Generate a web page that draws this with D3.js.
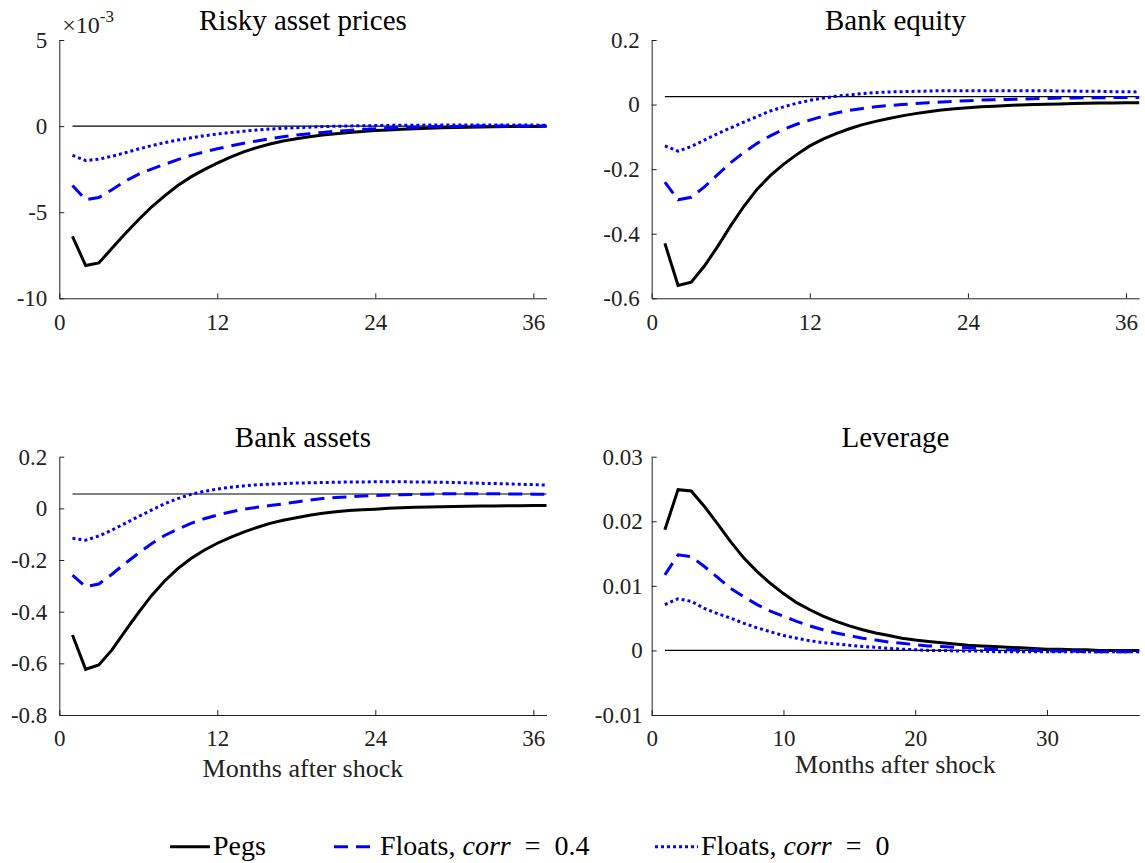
<!DOCTYPE html>
<html>
<head>
<meta charset="utf-8">
<script src="https://cdn.jsdelivr.net/npm/d3@7"></script>
<style>
body { margin: 0; background: #fff; }
text { font-family: "Liberation Serif", "Times New Roman", serif; }
</style>
</head>
<body>
<div id="chart"></div>
<script>
var months = [1,2,3,4,5,6,7,8,9,10,11,12,13,14,15,16,17,18,19,20,21,22,23,24,25,26,27,28,29,30,31,32,33,34,35,36,37];

// Risky asset prices, in units of 1e-3
var riskyPegs = [-6.4,-8.1,-7.95,-7.1,-6.25,-5.45,-4.7,-4.05,-3.45,-2.95,-2.53,-2.15,-1.8,-1.5,-1.25,-1.04,-0.87,-0.73,-0.62,-0.52,-0.44,-0.37,-0.31,-0.26,-0.22,-0.18,-0.15,-0.12,-0.1,-0.08,-0.065,-0.05,-0.04,-0.03,-0.025,-0.02,-0.015];
var riskyFloat04 = [-3.45,-4.27,-4.15,-3.7,-3.2,-2.8,-2.5,-2.22,-1.95,-1.7,-1.5,-1.32,-1.15,-1.0,-0.86,-0.73,-0.62,-0.52,-0.44,-0.37,-0.3,-0.25,-0.2,-0.16,-0.12,-0.09,-0.07,-0.05,-0.03,-0.02,-0.01,0,0,0.01,0.01,0.01,0.01];
var riskyFloat0 = [-1.7,-2.0,-1.92,-1.75,-1.55,-1.33,-1.14,-0.96,-0.81,-0.68,-0.56,-0.46,-0.37,-0.3,-0.23,-0.17,-0.13,-0.09,-0.06,-0.03,-0.01,0.01,0.02,0.03,0.04,0.05,0.05,0.06,0.06,0.06,0.06,0.06,0.06,0.06,0.06,0.06,0.05];
var riskyRef = 0;

// Bank equity
var equityPegs = [-0.43,-0.56,-0.55,-0.5,-0.44,-0.375,-0.315,-0.262,-0.22,-0.185,-0.155,-0.128,-0.107,-0.09,-0.075,-0.062,-0.052,-0.043,-0.035,-0.028,-0.022,-0.017,-0.013,-0.01,-0.007,-0.005,-0.003,-0.001,0,0.001,0.002,0.003,0.004,0.005,0.005,0.006,0.006];
var equityFloat04 = [-0.24,-0.295,-0.287,-0.255,-0.217,-0.18,-0.148,-0.12,-0.097,-0.077,-0.061,-0.048,-0.036,-0.026,-0.018,-0.012,-0.007,-0.003,0,0.003,0.006,0.008,0.01,0.012,0.014,0.015,0.016,0.017,0.018,0.019,0.02,0.02,0.021,0.021,0.022,0.022,0.022];
var equityFloat0 = [-0.128,-0.144,-0.13,-0.11,-0.09,-0.072,-0.054,-0.037,-0.02,-0.007,0.004,0.013,0.02,0.026,0.03,0.034,0.037,0.039,0.04,0.041,0.042,0.043,0.043,0.043,0.043,0.043,0.043,0.043,0.043,0.043,0.042,0.042,0.041,0.041,0.04,0.04,0.039];
var equityRef = 0.0246;

// Bank assets
var assetsPegs = [-0.49,-0.623,-0.606,-0.548,-0.475,-0.405,-0.338,-0.281,-0.233,-0.194,-0.162,-0.135,-0.112,-0.092,-0.074,-0.058,-0.046,-0.036,-0.027,-0.019,-0.013,-0.008,-0.005,-0.003,0,0.002,0.004,0.005,0.006,0.007,0.008,0.009,0.009,0.01,0.01,0.011,0.011];
var assetsFloat04 = [-0.258,-0.303,-0.293,-0.255,-0.213,-0.174,-0.137,-0.105,-0.08,-0.058,-0.04,-0.026,-0.014,-0.003,0.004,0.011,0.017,0.025,0.032,0.038,0.042,0.045,0.048,0.05,0.052,0.053,0.054,0.055,0.056,0.057,0.057,0.057,0.057,0.056,0.056,0.055,0.055];
var assetsFloat0 = [-0.116,-0.123,-0.107,-0.084,-0.058,-0.032,-0.007,0.018,0.038,0.054,0.066,0.075,0.082,0.087,0.091,0.094,0.096,0.098,0.099,0.1,0.101,0.102,0.102,0.103,0.103,0.103,0.102,0.102,0.101,0.1,0.099,0.097,0.096,0.095,0.093,0.092,0.09];
var assetsRef = 0.0555;

// Leverage
var leveragePegs = [0.0187,0.0249,0.0247,0.0223,0.0196,0.0168,0.0143,0.0122,0.0104,0.0088,0.0074,0.0063,0.0053,0.0045,0.0038,0.0032,0.0027,0.0023,0.0019,0.0016,0.0014,0.0012,0.001,0.0008,0.0007,0.0006,0.0005,0.0004,0.0003,0.0002,0.0002,0.0001,0.0001,0,0,0,0];
var leverageFloat04 = [0.0117,0.0148,0.0145,0.013,0.0113,0.0096,0.0083,0.0071,0.0061,0.0053,0.0045,0.0038,0.0032,0.0027,0.0023,0.0019,0.0016,0.0013,0.0011,0.0009,0.0007,0.0006,0.0005,0.0004,0.0003,0.0002,0.0001,0,0,-0.0001,-0.0001,-0.0001,-0.0002,-0.0002,-0.0002,-0.0002,-0.0002];
var leverageFloat0 = [0.0071,0.008,0.0076,0.0065,0.0057,0.005,0.0042,0.0035,0.0029,0.0023,0.0019,0.0015,0.0012,0.001,0.0008,0.0006,0.0005,0.0003,0.0002,0.0001,0,0,-0.0001,-0.0001,-0.0001,-0.0002,-0.0002,-0.0002,-0.0002,-0.0002,-0.0002,-0.0002,-0.0002,-0.0002,-0.0002,-0.0002,-0.0002];
var leverageRef = 0;

var titles = ['Risky asset prices', 'Bank equity', 'Bank assets', 'Leverage'];
var legendLabels = ['Pegs', 'Floats, ', 'Floats, '];
var legendCorr = [null, '0.4', '0'];

var axisColor = '#222';
var styles = [
    {color: '#000', dash: null},
    {color: '#0000ff', dash: '14,8'},
    {color: '#0000ff', dash: '3,3'}
];

var panels = [
    {title: titles[0], left: 59.3, right: 546.5, top: 40, bottom: 298.3,
     yDomain: [-10, 5], yTicks: [-10, -5, 0, 5], xTicks: [0, 12, 24, 36], pad: 12,
     series: [riskyPegs, riskyFloat04, riskyFloat0], ref: riskyRef, exponent: true},
    {title: titles[1], left: 651.7, right: 1139.2, top: 40, bottom: 298.3,
     yDomain: [-0.6, 0.2], yTicks: [-0.6, -0.4, -0.2, 0, 0.2], xTicks: [0, 12, 24, 36], pad: 12,
     series: [equityPegs, equityFloat04, equityFloat0], ref: equityRef},
    {title: titles[2], left: 59.3, right: 546.5, top: 456.7, bottom: 715,
     yDomain: [-0.8, 0.2], yTicks: [-0.8, -0.6, -0.4, -0.2, 0, 0.2], xTicks: [0, 12, 24, 36], pad: 12,
     series: [assetsPegs, assetsFloat04, assetsFloat0], ref: assetsRef, xLabelY: 777},
    {title: titles[3], left: 651.7, right: 1139.2, top: 456.7, bottom: 715,
     yDomain: [-0.01, 0.03], yTicks: [-0.01, 0, 0.01, 0.02, 0.03], xTicks: [0, 10, 20, 30], pad: 9,
     series: [leveragePegs, leverageFloat04, leverageFloat0], ref: leverageRef, xLabelY: 773}
];

var svg = d3.select('#chart').append('svg')
    .attr('width', 1145)
    .attr('height', 863);

function styleAxis(ax, size) {
    ax.attr('font-size', size);
    ax.select('.domain').attr('stroke', axisColor).attr('stroke-width', 1);
    ax.selectAll('.tick line').attr('stroke', axisColor);
    ax.selectAll('.tick text').attr('fill', axisColor);
}

function drawPanel(p) {
    var x = d3.scaleLinear().domain([0, 37]).range([p.left, p.right]);
    var y = d3.scaleLinear().domain(p.yDomain).range([p.bottom, p.top]);
    var g = svg.append('g');

    // reference line sits under the curves
    g.append('line')
        .attr('x1', x(months[0])).attr('x2', x(months[months.length - 1]))
        .attr('y1', y(p.ref)).attr('y2', y(p.ref))
        .attr('stroke', '#000').attr('stroke-width', 1.2);

    var line = d3.line()
        .x(function (d) { return x(d[0]); })
        .y(function (d) { return y(d[1]); });

    p.series.forEach(function (vals, i) {
        g.append('path')
            .datum(months.map(function (m, j) { return [m, vals[j]]; }))
            .attr('d', line)
            .attr('fill', 'none')
            .attr('stroke', styles[i].color)
            .attr('stroke-width', 3)
            .attr('stroke-dasharray', styles[i].dash);
    });

    var xAxis = g.append('g')
        .attr('transform', 'translate(0,' + p.bottom + ')')
        .call(d3.axisBottom(x).tickValues(p.xTicks).tickSize(-5).tickSizeOuter(0).tickPadding(15));
    styleAxis(xAxis, 23);

    var yAxis = g.append('g')
        .attr('transform', 'translate(' + p.left + ',0)')
        .call(d3.axisLeft(y).tickValues(p.yTicks).tickSize(-5).tickSizeOuter(0).tickPadding(p.pad)
            .tickFormat(function (d) { return String(d); }));
    styleAxis(yAxis, 23);

    g.append('text')
        .attr('x', (p.left + p.right) / 2)
        .attr('y', p.top - 10)
        .attr('text-anchor', 'middle')
        .attr('font-size', 29)
        .attr('fill', '#000')
        .text(p.title);

    if (p.exponent) {
        var ex = g.append('text')
            .attr('x', p.left + 3)
            .attr('y', p.top - 7)
            .attr('font-size', 24)
            .attr('fill', axisColor);
        ex.append('tspan').text('\u00d710');
        ex.append('tspan').attr('dy', -11).attr('font-size', 17).text('-3');
    }

    if (p.xLabelY) {
        g.append('text')
            .attr('x', (p.left + p.right) / 2)
            .attr('y', p.xLabelY)
            .attr('text-anchor', 'middle')
            .attr('font-size', 26)
            .attr('fill', axisColor)
            .text('Months after shock');
    }
}

panels.forEach(drawPanel);

// legend along the bottom
var legendPos = [{x1: 170, x2: 210, tx: 213}, {x1: 334, x2: 374, tx: 380}, {x1: 655, x2: 698, tx: 701}];
var legendY = 846.7;
var legend = svg.append('g');
legendPos.forEach(function (pos, i) {
    legend.append('line')
        .attr('x1', pos.x1).attr('x2', pos.x2)
        .attr('y1', legendY).attr('y2', legendY)
        .attr('stroke', styles[i].color)
        .attr('stroke-width', 3)
        .attr('stroke-dasharray', styles[i].dash);
    var t = legend.append('text')
        .attr('x', pos.tx)
        .attr('y', 855)
        .attr('font-size', 28)
        .attr('fill', '#000');
    t.append('tspan').text(legendLabels[i]);
    if (legendCorr[i] !== null) {
        t.append('tspan').attr('font-style', 'italic').text('corr');
        t.append('tspan').text('\u2002=\u2002' + legendCorr[i]);
    }
});
</script>
</body>
</html>
